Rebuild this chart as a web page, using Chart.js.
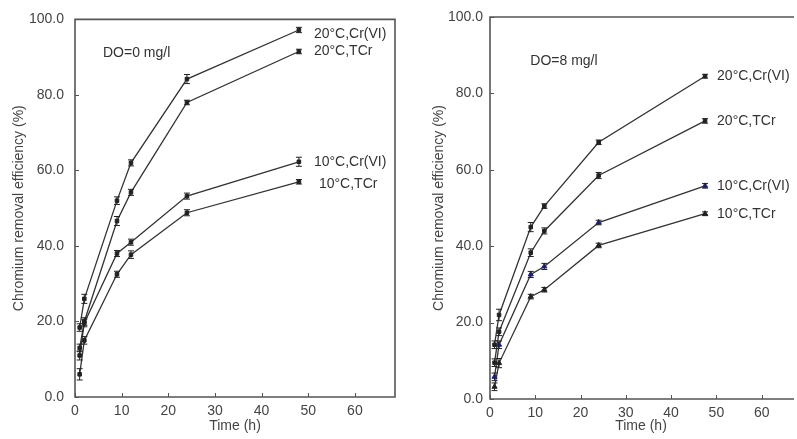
<!DOCTYPE html>
<html><head><meta charset="utf-8">
<script src="https://cdn.jsdelivr.net/npm/chart.js@4/dist/chart.umd.min.js"></script>
<style>
html,body{margin:0;padding:0;background:#fff;width:797px;height:439px;overflow:hidden}
canvas{position:absolute;top:0}
#c1{left:0}
#c2{left:420px}
</style></head><body>
<canvas id="c1" width="400" height="439"></canvas>
<canvas id="c2" width="377" height="439"></canvas>
<script>
// ---- data ----
const timesLeft = [1, 2, 9, 12, 24, 48];
const timesRight = [1, 2, 9, 12, 24, 47.5];
const seriesNames = ['20\u00B0C,Cr(VI)', '20\u00B0C,TCr', '10\u00B0C,Cr(VI)', '10\u00B0C,TCr'];

const leftCr20 = [18.4, 26.0, 52.0, 62.0, 84.2, 97.2];
const leftT20  = [13.0, 20.0, 46.6, 54.2, 78.0, 91.5];
const leftCr10 = [11.0, 19.6, 38.0, 41.0, 53.2, 62.3];
const leftT10  = [6.0, 15.0, 32.5, 37.7, 48.8, 57.0];
const leftErrCr20 = [1.0, 1.2, 1.0, 0.8, 1.2, 0.7];
const leftErrT20  = [1.0, 1.0, 1.2, 0.8, 0.6, 0.6];
const leftErrCr10 = [1.2, 1.0, 0.8, 0.8, 0.8, 1.2];
const leftErrT10  = [1.5, 1.0, 0.8, 1.0, 0.8, 0.6];

const rightCr20 = [14.2, 22.0, 45.0, 50.5, 67.2, 84.5];
const rightT20  = [9.5, 17.6, 38.3, 44.0, 58.5, 72.8];
const rightCr10 = [5.8, 14.2, 32.6, 34.7, 46.2, 55.8];
const rightT10  = [3.2, 9.4, 26.8, 28.6, 40.2, 48.5];
const rightErrCr20 = [1.0, 1.5, 1.2, 0.6, 0.6, 0.5];
const rightErrT20  = [1.0, 1.0, 1.0, 0.8, 0.8, 0.6];
const rightErrCr10 = [1.0, 1.0, 0.8, 0.8, 0.6, 0.6];
const rightErrT10  = [1.0, 1.2, 0.6, 0.6, 0.6, 0.5];

const xTickValues = [0, 10, 20, 30, 40, 50, 60];
const yTickValues = [0, 20, 40, 60, 80, 100];
const xTitle = 'Time (h)';
const yTitle = 'Chromium removal efficiency (%)';
const noteLeft = 'DO=0 mg/l';
const noteRight = 'DO=8 mg/l';

const FONT = "'Liberation Sans', Arial, sans-serif";

// ---- plugins ----
const framePlugin = {
  id: 'frame',
  beforeDatasetsDraw(chart, args, o) {
    const {ctx, chartArea: a, scales: {x, y}} = chart;
    ctx.save();
    ctx.strokeStyle = o.color; ctx.lineWidth = o.width;
    ctx.beginPath();
    if (o.right) {
      ctx.rect(a.left, a.top, a.right - a.left, a.bottom - a.top);
    } else {
      ctx.moveTo(a.right + 2, a.top); ctx.lineTo(a.left, a.top);
      ctx.lineTo(a.left, a.bottom); ctx.lineTo(a.right + 2, a.bottom);
    }
    ctx.stroke();
    ctx.lineWidth = 1;
    ctx.beginPath();
    xTickValues.forEach(v => { const px = Math.round(x.getPixelForValue(v)) + 0.5; ctx.moveTo(px, a.bottom); ctx.lineTo(px, a.bottom - 4); });
    yTickValues.forEach(v => { const py = Math.round(y.getPixelForValue(v)) + 0.5; ctx.moveTo(a.left, py); ctx.lineTo(a.left + 4, py); });
    ctx.stroke();
    ctx.restore();
  }
};

const errPlugin = {
  id: 'errbars',
  afterDatasetsDraw(chart) {
    const {ctx, scales: {x, y}} = chart;
    ctx.save();
    chart.data.datasets.forEach(ds => {
      ctx.strokeStyle = '#222'; ctx.lineWidth = 1;
      ds.data.forEach((p, j) => {
        const e = ds.errors[j];
        const px = x.getPixelForValue(p.x);
        const y1 = y.getPixelForValue(p.y + e), y2 = y.getPixelForValue(p.y - e);
        ctx.beginPath();
        ctx.moveTo(px, y1); ctx.lineTo(px, y2);
        ctx.moveTo(px - 3, y1); ctx.lineTo(px + 3, y1);
        ctx.moveTo(px - 3, y2); ctx.lineTo(px + 3, y2);
        ctx.stroke();
      });
    });
    ctx.restore();
  }
};

const labelPlugin = {
  id: 'endLabels',
  afterDatasetsDraw(chart, args, o) {
    const {ctx, scales: {x, y}} = chart;
    ctx.save();
    ctx.font = '14px ' + FONT;
    ctx.fillStyle = '#333';
    ctx.textBaseline = 'middle';
    ctx.textAlign = 'left';
    chart.data.datasets.forEach((ds, i) => {
      const p = ds.data[ds.data.length - 1];
      ctx.fillText(ds.label, x.getPixelForValue(p.x) + o.dx[i], y.getPixelForValue(p.y) + o.dy[i]);
    });
    // note
    ctx.fillText(o.note, x.getPixelForValue(o.noteX), y.getPixelForValue(o.noteY));
    ctx.restore();
  }
};

function makeDatasets(times, vals, errs, styles) {
  return vals.map((v, i) => ({
    label: seriesNames[i],
    data: times.map((t, j) => ({x: t, y: v[j]})),
    errors: errs[i],
    borderColor: '#333',
    borderWidth: 1.3,
    pointStyle: styles[i].shape,
    pointRadius: styles[i].r,
    pointBackgroundColor: styles[i].color,
    pointBorderColor: styles[i].color,
    pointBorderWidth: 1,
    tension: 0,
    fill: false
  }));
}

function makeChart(id, datasets, cfg) {
  return new Chart(document.getElementById(id), {
    type: 'line',
    data: {datasets},
    plugins: [framePlugin, errPlugin, labelPlugin],
    options: {
      responsive: false,
      animation: false,
      events: [],
      layout: {padding: {top: cfg.top, right: cfg.right, left: 0, bottom: 0}},
      plugins: {
        legend: {display: false},
        tooltip: {enabled: false},
        frame: {color: '#555', width: 1.6, right: cfg.frameRight},
        endLabels: {dx: cfg.dx, dy: cfg.dy, note: cfg.note, noteX: cfg.noteX, noteY: cfg.noteY}
      },
      scales: {
        x: {
          type: 'linear', min: 0, max: cfg.xmax,
          afterBuildTicks: s => { s.ticks = xTickValues.map(v => ({value: v})); },
          afterFit: s => { s.height = cfg.xh; },
          grid: {display: false, drawTicks: false},
          border: {display: false},
          ticks: {color: '#444', font: {family: FONT, size: 14}, padding: 6, maxRotation: 0, callback: v => String(v)},
          title: {display: true, text: xTitle, color: '#444', font: {family: FONT, size: 14}, padding: {top: 0, bottom: 4}}
        },
        y: {
          type: 'linear', min: 0, max: 100,
          afterBuildTicks: s => { s.ticks = yTickValues.map(v => ({value: v})); },
          afterFit: s => { s.width = cfg.yw; },
          grid: {display: false, drawTicks: false},
          border: {display: false},
          ticks: {color: '#444', font: {family: FONT, size: 14}, padding: cfg.ypad, callback: v => Number(v).toFixed(1)},
          title: {display: true, text: yTitle, color: '#444', font: {family: FONT, size: 14}, padding: {top: 11, bottom: 0}}
        }
      }
    }
  });
}

const leftStyles = [
  {shape: 'rect', r: 2.5, color: '#222'},
  {shape: 'rect', r: 2.5, color: '#222'},
  {shape: 'rect', r: 2.5, color: '#222'},
  {shape: 'rect', r: 2.5, color: '#222'}
];
const rightStyles = [
  {shape: 'rect', r: 2.5, color: '#222'},
  {shape: 'rect', r: 2.5, color: '#222'},
  {shape: 'triangle', r: 3, color: '#1f1f9a'},
  {shape: 'triangle', r: 3, color: '#222'}
];

makeChart('c1',
  makeDatasets(timesLeft, [leftCr20, leftT20, leftCr10, leftT10], [leftErrCr20, leftErrT20, leftErrCr10, leftErrT10], leftStyles),
  {top: 15, right: 5, xh: 42, yw: 75, ypad: 11, xmax: 68.6, frameRight: true,
   dx: [15, 15, 15, 20], dy: [4, 0, 0, 2], note: noteLeft, noteX: 6, noteY: 91});

makeChart('c2',
  makeDatasets(timesRight, [rightCr20, rightT20, rightCr10, rightT10], [rightErrCr20, rightErrT20, rightErrCr10, rightErrT10], rightStyles),
  {top: 17, right: 0, xh: 40, yw: 70, ypad: 7, xmax: 66.7, frameRight: false,
   dx: [12, 12, 12, 12], dy: [0, 0, 0, 0], note: noteRight, noteX: 8.9, noteY: 88.5});
</script>
</body></html>
